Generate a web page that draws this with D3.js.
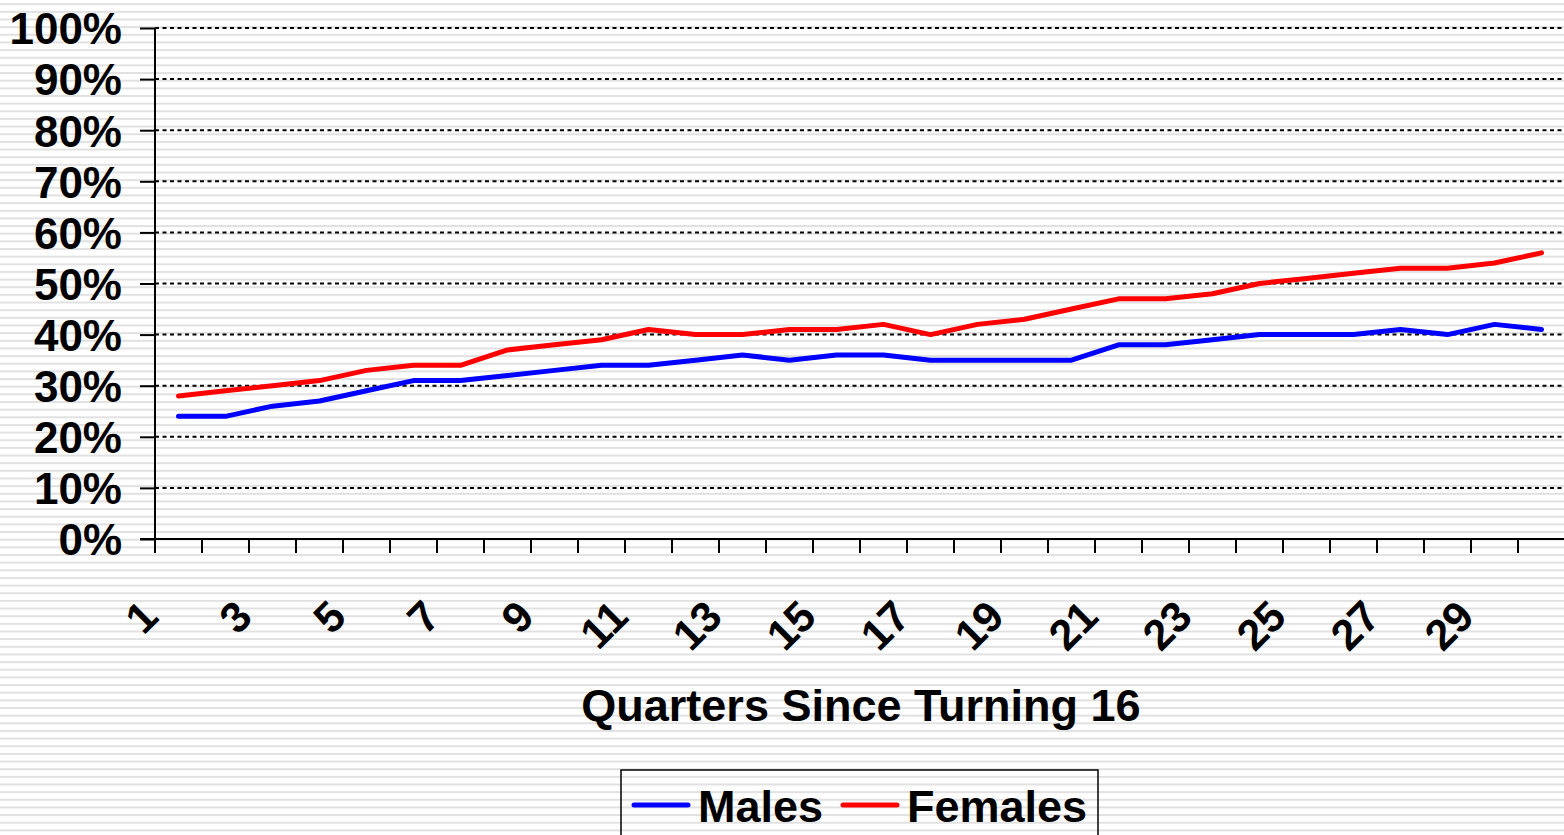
<!DOCTYPE html>
<html>
<head>
<meta charset="utf-8">
<script src="https://cdn.jsdelivr.net/npm/d3@7"></script>
<style>
    body { margin: 0; background: #fff; overflow: hidden; }
    text { font-family: "Liberation Sans", Arial, sans-serif; font-weight: bold; fill: #000; }
</style>
</head>
<body>
<div id="chart"></div>
<script>
var quarters = d3.range(1, 31);
var males = [24, 24, 26, 27, 29, 31, 31, 32, 33, 34, 34, 35, 36, 35, 36, 36, 35, 35, 35, 35,
    38, 38, 39, 40, 40, 40, 41, 40, 42, 41];
var females = [28, 29, 30, 31, 33, 34, 34, 37, 38, 39, 41, 40, 40, 41, 41, 42, 40, 42, 43, 45,
    47, 47, 48, 50, 51, 52, 53, 53, 54, 56];
var yTicks = [0, 10, 20, 30, 40, 50, 60, 70, 80, 90, 100];
var seriesNames = ["Males", "Females"];
var seriesColors = ["#0000ff", "#ff0000"];

window.onload = function () {
    drawChart();
}

function drawChart() {
    var width = 1564, height = 835;
    var left = 155, top = 28, plotW = 1410, plotH = 511;

    var svg = d3.select("#chart")
        .append("svg")
        .attr("width", width)
        .attr("height", height);

    // striped background, like the old excel fill
    var pat = svg.append("defs").append("pattern")
        .attr("id", "stripes")
        .attr("patternUnits", "userSpaceOnUse")
        .attr("width", 10)
        .attr("height", 7.65)
        .attr("y", 3.2);
    pat.append("rect").attr("width", 10).attr("height", 7.65).attr("fill", "#fff");
    pat.append("rect").attr("y", 0).attr("width", 10).attr("height", 2).attr("fill", "#e1e1e1");
    svg.append("rect")
        .attr("width", width)
        .attr("height", height)
        .attr("fill", "url(#stripes)");

    var x = d3.scaleBand()
        .domain(quarters)
        .range([left, left + plotW]);
    var y = d3.scaleLinear()
        .domain([0, 100])
        .range([top + plotH, top]);

    // dotted gridlines
    svg.append("g")
        .selectAll("line")
        .data(yTicks.filter(function (d) { return d > 0; }))
        .enter()
        .append("line")
        .attr("x1", left)
        .attr("x2", left + plotW)
        .attr("y1", function (d) { return y(d); })
        .attr("y2", function (d) { return y(d); })
        .attr("stroke", "#000")
        .attr("stroke-width", 2)
        .attr("stroke-dasharray", "4,3.5");

    // y axis
    var yAxis = svg.append("g")
        .attr("transform", "translate(" + left + ",0)")
        .call(d3.axisLeft(y).tickValues(yTicks).tickSize(15).tickPadding(18)
            .tickFormat(function (d) { return d + "%"; }));
    yAxis.select(".domain").remove();
    yAxis.selectAll("line").attr("stroke", "#000").attr("stroke-width", 2);
    yAxis.selectAll("text")
        .style("font-size", "44px")
        .attr("dy", "0.36em");
    svg.append("line")
        .attr("x1", left).attr("x2", left)
        .attr("y1", top).attr("y2", top + plotH)
        .attr("stroke", "#000").attr("stroke-width", 2);

    // x axis: ticks sit between categories
    var xg = svg.append("g");
    xg.append("line")
        .attr("x1", left - 15).attr("x2", left + plotW)
        .attr("y1", y(0)).attr("y2", y(0))
        .attr("stroke", "#000").attr("stroke-width", 2);
    xg.selectAll(".xtick")
        .data(quarters)
        .enter()
        .append("line")
        .attr("class", "xtick")
        .attr("x1", function (d) { return x(d); })
        .attr("x2", function (d) { return x(d); })
        .attr("y1", y(0))
        .attr("y2", y(0) + 14)
        .attr("stroke", "#000").attr("stroke-width", 2);
    xg.selectAll(".xlab")
        .data(quarters.filter(function (d) { return d % 2 == 1; }))
        .enter()
        .append("text")
        .attr("class", "xlab")
        .attr("text-anchor", "end")
        .style("font-size", "43px")
        .attr("transform", function (d) {
            var cx = x(d) + x.bandwidth() / 2 - 18;
            return "translate(" + cx + ",619) rotate(-45)";
        })
        .text(function (d) { return d; });

    svg.append("text")
        .attr("x", 861)
        .attr("y", 721)
        .attr("text-anchor", "middle")
        .style("font-size", "45px")
        .text("Quarters Since Turning 16");

    // the two lines
    var line = d3.line()
        .x(function (d, i) { return x(quarters[i]) + x.bandwidth() / 2; })
        .y(function (d) { return y(d); });
    [males, females].forEach(function (s, k) {
        svg.append("path")
            .datum(s)
            .attr("d", line)
            .attr("fill", "none")
            .attr("stroke", seriesColors[k])
            .attr("stroke-width", 5)
            .attr("stroke-linejoin", "round")
            .attr("stroke-linecap", "round");
    });

    // legend
    var lg = svg.append("g");
    lg.append("rect")
        .attr("x", 621).attr("y", 770)
        .attr("width", 477).attr("height", 80)
        .attr("fill", "none")
        .attr("stroke", "#000").attr("stroke-width", 1.5);
    var legendX = [634, 843];
    seriesNames.forEach(function (n, k) {
        lg.append("line")
            .attr("x1", legendX[k]).attr("x2", legendX[k] + 54)
            .attr("y1", 805).attr("y2", 805)
            .attr("stroke", seriesColors[k]).attr("stroke-width", 5)
            .attr("stroke-linecap", "round");
        lg.append("text")
            .attr("x", legendX[k] + 64)
            .attr("y", 822)
            .style("font-size", "45px")
            .text(n);
    });
}
</script>
</body>
</html>
